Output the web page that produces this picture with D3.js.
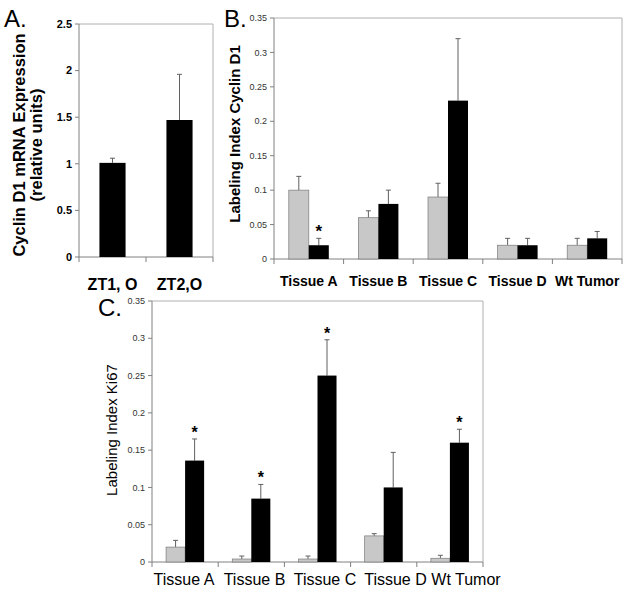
<!DOCTYPE html>
<html><head><meta charset="utf-8">
<script src="https://cdn.jsdelivr.net/npm/d3@7"></script>
<style>
body{margin:0;background:#fff;}
svg text{font-family:"Liberation Sans",Arial,sans-serif;}
</style></head>
<body>
<svg id="c" width="632" height="592"></svg>
<script>
// Panel A data
const catsA = ["ZT1, O", "ZT2,O"];
const valsA = [1.01, 1.47];
const errA = [1.06, 1.96];
const ticksA = [0, 0.5, 1, 1.5, 2, 2.5];

// Panel B data (Cyclin D1)
const catsB = ["Tissue A", "Tissue B", "Tissue C", "Tissue D", "Wt Tumor"];
const grayB = [0.10, 0.06, 0.09, 0.02, 0.02];
const grayBErr = [0.12, 0.07, 0.11, 0.03, 0.03];
const blackB = [0.02, 0.08, 0.23, 0.02, 0.03];
const blackBErr = [0.03, 0.10, 0.32, 0.03, 0.04];
const starB = [true, false, false, false, false];
const ticksB = [0, 0.05, 0.1, 0.15, 0.2, 0.25, 0.3, 0.35];

// Panel C data (Ki67)
const catsC = ["Tissue A", "Tissue B", "Tissue C", "Tissue D", "Wt Tumor"];
const grayC = [0.020, 0.004, 0.004, 0.035, 0.005];
const grayCErr = [0.029, 0.008, 0.008, 0.038, 0.009];
const blackC = [0.136, 0.085, 0.25, 0.10, 0.16];
const blackCErr = [0.165, 0.104, 0.298, 0.147, 0.178];
const starC = [true, true, true, false, true];
const ticksC = [0, 0.05, 0.1, 0.15, 0.2, 0.25, 0.3, 0.35];

const svg = d3.select("#c");
const AX = "#808080", FRAME = "#b0b0b0", ERR = "#606060";

function frame(g, x0, x1, y0, y1, x, cats) {
  g.append("path").attr("d", `M${x0},${y0}H${x1}V${y1}`).attr("fill","none").attr("stroke",FRAME).attr("stroke-width",1);
  g.append("line").attr("x1",x0).attr("x2",x0).attr("y1",y0).attr("y2",y1).attr("stroke",AX);
  g.append("line").attr("x1",x0).attr("x2",x1).attr("y1",y1).attr("y2",y1).attr("stroke",AX);
  const bounds = cats.map(c => x(c)).concat([x(cats[cats.length-1]) + x.bandwidth()]);
  g.selectAll(null).data(bounds).join("line")
    .attr("x1", d=>d).attr("x2", d=>d).attr("y1", y1).attr("y2", y1+5).attr("stroke",AX);
}

function yTicks(g, y, ticks, x0, fmt, fontSize, weight, fill) {
  g.selectAll(null).data(ticks).join("line")
    .attr("x1", x0-4).attr("x2", x0).attr("y1", d=>y(d)).attr("y2", d=>y(d)).attr("stroke",AX);
  g.selectAll(null).data(ticks).join("text")
    .attr("x", x0-7).attr("y", d=>y(d)).attr("dy","0.35em").attr("text-anchor","end")
    .attr("font-size",fontSize).attr("font-weight",weight).attr("fill",fill).text(fmt);
}

function errBars(g, xs, vals, errs, y, cap) {
  xs.forEach((xc,i) => {
    g.append("line").attr("x1",xc).attr("x2",xc).attr("y1",y(vals[i])).attr("y2",y(errs[i])).attr("stroke",ERR);
    g.append("line").attr("x1",xc-cap).attr("x2",xc+cap).attr("y1",y(errs[i])).attr("y2",y(errs[i])).attr("stroke",ERR);
  });
}

// ---------- Panel A ----------
{
  const g = svg.append("g");
  const L=79, R=213, T=24, B=257;
  const x = d3.scaleBand().domain(catsA).range([L,R]).padding(0);
  const y = d3.scaleLinear().domain([0,2.5]).range([B,T]);
  const bw = x.bandwidth()*0.39;
  frame(g, L, R, T, B, x, catsA);
  yTicks(g, y, ticksA, L, d=>String(d), 11, "bold", "#000");
  const xs = catsA.map(c => x(c)+x.bandwidth()/2);
  errBars(g, xs, valsA, errA, y, 2.5);
  g.selectAll(null).data(catsA).join("rect")
    .attr("x", c => x(c)+(x.bandwidth()-bw)/2).attr("width", bw)
    .attr("y", (c,i)=>y(valsA[i])).attr("height", (c,i)=>B-y(valsA[i]))
    .attr("fill","#000");
  g.selectAll(null).data(catsA).join("text")
    .attr("x", c => x(c)+x.bandwidth()/2).attr("y", 290).attr("text-anchor","middle")
    .attr("font-size",16).attr("font-weight","bold").text(d=>d);
  g.append("text").attr("transform",`translate(25,145) rotate(-90)`).attr("text-anchor","middle")
    .attr("font-size",16.5).attr("font-weight","bold").text("Cyclin D1 mRNA Expression");
  g.append("text").attr("transform",`translate(42,145) rotate(-90)`).attr("text-anchor","middle")
    .attr("font-size",16.5).attr("font-weight","bold").text("(relative units)");
  g.append("text").attr("x",4).attr("y",27).attr("font-size",24).text("A.");
}

function groupedPanel(opts) {
  const {L,R,T,B,cats,gray,grayErr,black,blackErr,star,ticks} = opts;
  const g = svg.append("g");
  const x = d3.scaleBand().domain(cats).range([L,R]).padding(0);
  const xs = d3.scaleBand().domain(["gray","black"]).range([0,x.bandwidth()]).paddingInner(0).paddingOuter(0.74);
  const y = d3.scaleLinear().domain([0,0.35]).range([B,T]);
  frame(g, L, R, T, B, x, cats);
  yTicks(g, y, ticks, L, d=>String(d), 9, "normal", "#333");
  const gx = cats.map(c => x(c)+xs("gray")+xs.bandwidth()/2);
  const bx = cats.map(c => x(c)+xs("black")+xs.bandwidth()/2);
  errBars(g, gx, gray, grayErr, y, 2.5);
  errBars(g, bx, black, blackErr, y, 2.5);
  g.selectAll(null).data(cats).join("rect")
    .attr("x", c => x(c)+xs("gray")).attr("width", xs.bandwidth())
    .attr("y", (c,i)=>y(gray[i])).attr("height",(c,i)=>B-y(gray[i]))
    .attr("fill","#c8c8c8").attr("stroke","#7a7a7a").attr("stroke-width",0.7);
  g.selectAll(null).data(cats).join("rect")
    .attr("x", c => x(c)+xs("black")).attr("width", xs.bandwidth())
    .attr("y", (c,i)=>y(black[i])).attr("height",(c,i)=>B-y(black[i]))
    .attr("fill","#000");
  g.selectAll(null).data(cats.filter((c,i)=>star[i])).join("text")
    .attr("x", c => x(c)+xs("black")+xs.bandwidth()/2)
    .attr("y", c => y(blackErr[cats.indexOf(c)]) - 1)
    .attr("text-anchor","middle").attr("font-size",opts.starSize).attr("font-weight","bold").text("*");
  return {g,x,y};
}

// ---------- Panel B ----------
{
  const {g,x} = groupedPanel({L:274,R:622,T:18,B:259,cats:catsB,gray:grayB,grayErr:grayBErr,black:blackB,blackErr:blackBErr,star:starB,ticks:ticksB,starSize:17});
  g.selectAll(null).data(catsB).join("text")
    .attr("x", c => x(c)+x.bandwidth()/2).attr("y", 286).attr("text-anchor","middle")
    .attr("font-size",14).attr("font-weight","bold").text(d=>d);
  g.append("text").attr("transform",`translate(240,134) rotate(-90)`).attr("text-anchor","middle")
    .attr("font-size",15).attr("font-weight","bold").text("Labeling Index Cyclin D1");
  g.append("text").attr("x",224).attr("y",27).attr("font-size",24).text("B.");
}

// ---------- Panel C ----------
{
  const {g} = groupedPanel({L:152,R:483,T:301,B:562,cats:catsC,gray:grayC,grayErr:grayCErr,black:blackC,blackErr:blackCErr,star:starC,ticks:ticksC,starSize:16});
  const lx = d3.scalePoint().domain(catsC).range([184, 466]);
  g.selectAll(null).data(catsC).join("text")
    .attr("x", c => lx(c)).attr("y", 585).attr("text-anchor","middle")
    .attr("font-size",16).text(d=>d);
  g.append("text").attr("transform",`translate(117,430) rotate(-90)`).attr("text-anchor","middle")
    .attr("font-size",15).text("Labeling Index Ki67");
  g.append("text").attr("x",98).attr("y",316).attr("font-size",24).text("C.");
}
</script>
</body></html>
